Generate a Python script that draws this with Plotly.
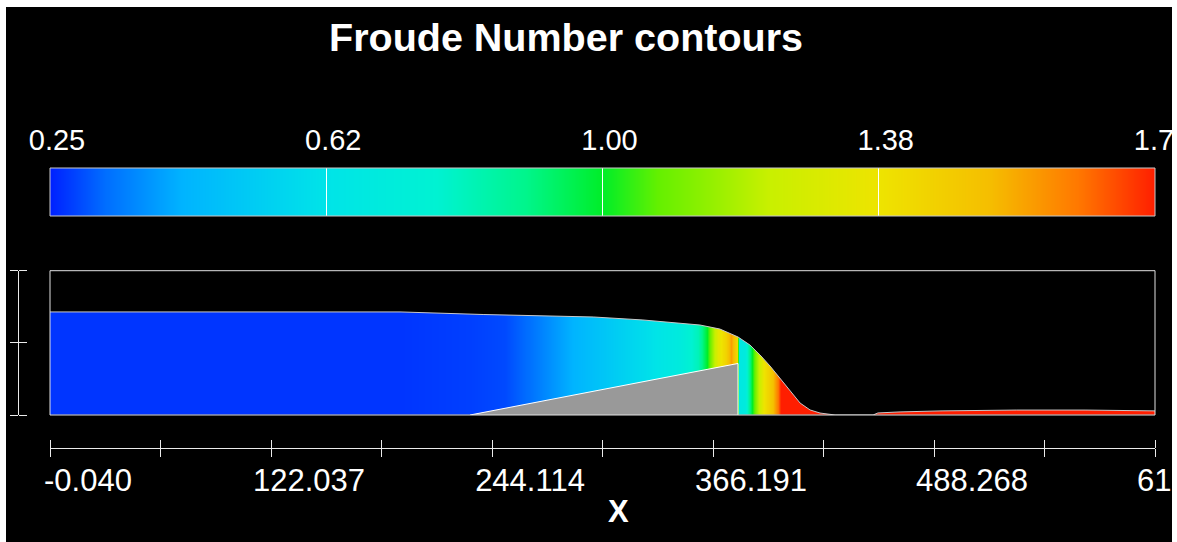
import plotly.graph_objects as go

W, H = 1177, 542
FONT = "Liberation Sans"

# Froude number sampled along the channel (x in m)
fr_x = [-0.04, 193.3, 232.0, 251.3, 265.1, 281.7, 298.3, 314.8, 331.4, 348.0,
        357.9, 362.9, 365.7, 369.0, 373.4, 376.2, 377.8, 379.5,
        380.3, 384.0, 387.8, 391.2, 394.4, 398.8, 402.2, 404.3, 414.3, 610.345]
fr_val = [0.27, 0.27, 0.28, 0.29, 0.33, 0.40, 0.47, 0.54, 0.61, 0.70,
          0.82, 1.00, 1.15, 1.33, 1.45, 1.58, 1.50, 1.42,
          0.66, 0.70, 1.00, 1.20, 1.38, 1.50, 1.65, 1.80, 1.90, 1.90]

# free-surface elevation along the channel
surf_x = [-0.04, 193.3, 239.2, 300.0, 327.5, 359.0, 370.0, 380.0, 386.6, 392.2,
          397.7, 403.2, 408.7, 414.3, 419.8, 425.3, 433.6, 454.6, 457.3, 469.5,
          492.7, 534.0, 571.7, 594.9, 610.345]
surf_y = [10.0, 10.0, 9.75, 9.51, 9.22, 8.73, 8.34, 7.57, 6.79, 5.82,
          4.75, 3.59, 2.33, 1.16, 0.49, 0.19, 0.0, 0.0, 0.2, 0.3,
          0.4, 0.48, 0.48, 0.4, 0.4]

# bed ramp (solid obstacle)
ramp_x = [232.0, 380.0, 380.0]
ramp_y = [0.0, 5.0, 0.0]

x_min, x_max = -0.040, 610.345
y_min, y_max = 0.0, 14.0
fr_min, fr_max = 0.25, 1.75

cbar_ticks = [0.25, 0.625, 1.0, 1.375, 1.75]
cbar_text = ["0.25", "0.62", "1.00", "1.38", "1.75"]

x_ticks = [x_min + i * (x_max - x_min) / 10 for i in range(11)]
x_text = ["-0.040", "", "122.037", "", "244.114", "", "366.191", "", "488.268", "", "610.345"]
y_ticks = [0.0, 7.0, 14.0]

colorscale = [
    [0.00, "rgb(0,32,255)"],
    [0.05, "rgb(0,110,255)"],
    [0.12, "rgb(0,180,255)"],
    [0.25, "rgb(0,228,232)"],
    [0.35, "rgb(0,242,210)"],
    [0.43, "rgb(0,245,140)"],
    [0.50, "rgb(0,238,40)"],
    [0.55, "rgb(100,240,0)"],
    [0.65, "rgb(200,240,0)"],
    [0.75, "rgb(238,228,0)"],
    [0.85, "rgb(245,190,0)"],
    [0.93, "rgb(255,120,0)"],
    [1.00, "rgb(255,30,0)"],
]


def px_x(p):
    return p / W


def px_y(p):
    return 1 - p / H


fig = go.Figure()

# Froude field over the channel
fig.add_trace(go.Heatmap(
    x=fr_x, y=[y_min, y_max], z=[fr_val, fr_val],
    zmin=fr_min, zmax=fr_max, colorscale=colorscale, zsmooth="best",
    showscale=False, hoverinfo="skip", xaxis="x", yaxis="y"))

# everything above the free surface is empty
fig.add_trace(go.Scatter(
    x=surf_x + [x_max, x_min], y=surf_y + [y_max + 1, y_max + 1],
    fill="toself", fillcolor="black", mode="lines", line=dict(width=0),
    hoverinfo="skip", showlegend=False, xaxis="x", yaxis="y"))

fig.add_trace(go.Scatter(
    x=surf_x, y=surf_y, mode="lines", line=dict(color="rgb(200,200,200)", width=1),
    hoverinfo="skip", showlegend=False, xaxis="x", yaxis="y"))

fig.add_trace(go.Scatter(
    x=ramp_x, y=ramp_y, fill="toself", fillcolor="rgb(153,153,153)", mode="lines",
    line=dict(color="white", width=1), hoverinfo="skip", showlegend=False,
    xaxis="x", yaxis="y"))

# legend bar
fig.add_trace(go.Heatmap(
    x=[fr_min, fr_max], y=[0, 1], z=[[fr_min, fr_max], [fr_min, fr_max]],
    zmin=fr_min, zmax=fr_max, colorscale=colorscale, zsmooth="best",
    showscale=False, hoverinfo="skip", xaxis="x2", yaxis="y2"))

# carriers for the ruler axes
for xa, ya in [("x3", "y"), ("x4", "y"), ("x", "y3"), ("x", "y4")]:
    fig.add_trace(go.Scatter(x=[], y=[], xaxis=xa, yaxis=ya, showlegend=False))

line_col = "rgb(235,235,235)"
tick_font = dict(family=FONT, size=31, color="white")

# rulers: two overlaid axes each, ticks pointing opposite ways -> crossed ticks
ruler_x = dict(range=[x_min, x_max], overlaying="x", anchor="free",
               position=px_y(448), tickmode="array", ticks="outside",
               tickvals=x_ticks, showline=True, linecolor=line_col, linewidth=1,
               tickcolor=line_col, tickwidth=1, ticklen=8, showgrid=False,
               zeroline=False, automargin=False)
ruler_y = dict(range=[y_min, y_max], overlaying="y", anchor="free",
               position=px_x(18), tickmode="array", ticks="outside",
               tickvals=y_ticks, showticklabels=False, showline=True,
               linecolor=line_col, linewidth=1, tickcolor=line_col, tickwidth=1,
               ticklen=8, showgrid=False, zeroline=False, automargin=False)

fig.update_layout(
    width=W, height=H,
    margin=dict(l=0, r=0, t=0, b=0, pad=0),
    paper_bgcolor="black", plot_bgcolor="black",
    showlegend=False,
    xaxis=dict(domain=[px_x(50), px_x(1155)], range=[x_min, x_max], anchor="y",
               visible=False, automargin=False),
    yaxis=dict(domain=[px_y(415), px_y(270.7)], range=[y_min, y_max], anchor="x",
               visible=False, automargin=False),
    xaxis2=dict(domain=[px_x(50), px_x(1155)], range=[fr_min, fr_max], anchor="y2",
                side="top", tickmode="array", tickvals=cbar_ticks, ticktext=cbar_text,
                ticks="inside", ticklen=48, tickcolor="white", tickwidth=1,
                tickfont=dict(family=FONT, size=29, color="white"),
                ticklabelshift=7, ticklabelstandoff=11, ticklabeloverflow="allow",
                showline=False, showgrid=False, zeroline=False, automargin=False),
    yaxis2=dict(domain=[px_y(216), px_y(168)], range=[0, 1], anchor="x2",
                visible=False, automargin=False),
    xaxis3=dict(ruler_x, side="bottom", ticktext=x_text, tickfont=tick_font,
                ticklabelshift=38, ticklabelstandoff=-3, ticklabeloverflow="allow"),
    xaxis4=dict(ruler_x, side="top", showticklabels=False),
    yaxis3=dict(ruler_y, side="left"),
    yaxis4=dict(ruler_y, side="right"),
    annotations=[
        dict(text="Froude Number contours", x=px_x(566), y=px_y(37),
             xref="paper", yref="paper", xanchor="center", yanchor="middle",
             showarrow=False,
             font=dict(family=FONT, size=39.5, color="white", weight="bold")),
        dict(text="X", x=px_x(618), y=px_y(511),
             xref="paper", yref="paper", xanchor="center", yanchor="middle",
             showarrow=False,
             font=dict(family=FONT, size=31, color="white", weight="bold")),
    ],
    shapes=[
        dict(type="rect", xref="x domain", yref="y domain", x0=0, x1=1, y0=0, y1=1,
             line=dict(color="rgb(225,225,225)", width=1), layer="above"),
        dict(type="rect", xref="x2 domain", yref="y2 domain", x0=0, x1=1, y0=0, y1=1,
             line=dict(color="rgb(200,200,200)", width=1), layer="above"),
        # white page border
        dict(type="rect", xref="paper", yref="paper", x0=-0.01, x1=px_x(6), y0=-0.01, y1=1.01,
             fillcolor="white", line=dict(width=0), layer="above"),
        dict(type="rect", xref="paper", yref="paper", x0=px_x(1172), x1=1.01, y0=-0.01, y1=1.01,
             fillcolor="white", line=dict(width=0), layer="above"),
        dict(type="rect", xref="paper", yref="paper", x0=-0.01, x1=1.01, y0=px_y(7), y1=1.01,
             fillcolor="white", line=dict(width=0), layer="above"),
    ],
)

fig.write_html("out.html")
